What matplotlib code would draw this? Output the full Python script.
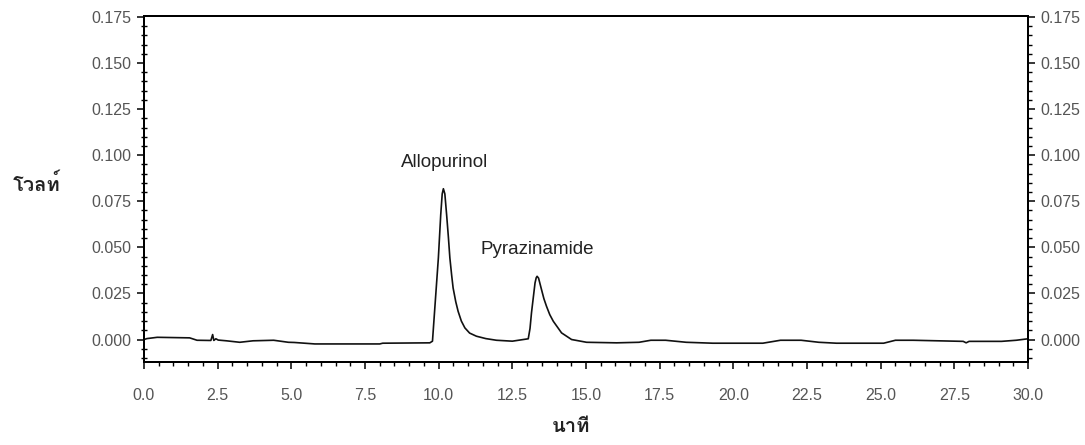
import matplotlib
matplotlib.use("Agg")
import matplotlib.pyplot as plt
from matplotlib import font_manager, ft2font
from matplotlib.ticker import MultipleLocator, FormatStrFormatter

# chromatogram (minutes, volts)
time_min = [0.0, 0.1, 0.45, 1.55, 1.8, 2.2, 2.27, 2.33, 2.37, 2.44, 2.52, 2.8,
            3.25, 3.7, 4.4, 4.9, 5.1, 5.8, 8.0, 8.1, 9.7, 9.79, 9.87, 9.94,
            9.99, 10.07, 10.12, 10.16, 10.21, 10.27, 10.33, 10.38, 10.44, 10.49,
            10.58, 10.66, 10.77, 10.89, 11.05, 11.28, 11.6, 11.96, 12.5, 13.04,
            13.1, 13.15, 13.27, 13.31, 13.34, 13.39, 13.49, 13.57, 13.66, 13.77,
            13.89, 14.17, 14.51, 15.02, 16.04, 16.8, 17.2, 17.7, 18.4, 19.3, 21.0,
            21.6, 22.3, 22.9, 23.5, 25.1, 25.5, 26.1, 27.8, 27.9, 28.0,
            29.1, 29.6, 30.0]
signal_v = [0.0, 0.0005, 0.0012, 0.0009, -0.0004, -0.0005, -0.0005, 0.0027,
            -0.0005, 0.0004, -0.0003, -0.0007, -0.0015, -0.0007, -0.0004,
            -0.0015, -0.0016, -0.0024, -0.0024, -0.0020, -0.0018, -0.0009,
            0.0172, 0.0330, 0.0443, 0.0677, 0.0790, 0.0818, 0.0790, 0.0677,
            0.0555, 0.0443, 0.0350, 0.0280, 0.0205, 0.0153, 0.0100, 0.0063,
            0.0035, 0.0018, 0.0005, -0.0004, -0.0009, 0.0004, 0.0060, 0.0145,
            0.0307, 0.0335, 0.0343, 0.0333, 0.0271, 0.0222, 0.0180, 0.0135,
            0.0099, 0.0036, 0.0, -0.0015, -0.0018, -0.0015, -0.0004, -0.0004,
            -0.0015, -0.0020, -0.0020, -0.0004, -0.0004, -0.0015, -0.0020,
            -0.0020, -0.0004, -0.0004, -0.0010, -0.0018, -0.0010, -0.0010,
            -0.0004, 0.0004]

peak_names = ["Allopurinol", "Pyrazinamide"]
peak_label_x = [10.21, 13.34]
peak_label_y = [0.0935, 0.0465]

x_ticks = [0.0, 2.5, 5.0, 7.5, 10.0, 12.5, 15.0, 17.5, 20.0, 22.5, 25.0, 27.5, 30.0]
y_ticks = [0.000, 0.025, 0.050, 0.075, 0.100, 0.125, 0.150, 0.175]


def thai_font():
    # look for any installed font that can draw Thai
    for f in font_manager.fontManager.ttflist:
        try:
            if 0x0E17 in ft2font.FT2Font(f.fname).get_charmap():
                return f.name
        except Exception:
            pass
    return "DejaVu Sans"


thai = thai_font()
plt.rcParams["font.family"] = ["Liberation Sans", "DejaVu Sans"]

fig = plt.figure(figsize=(10.85, 4.45), dpi=100)
ax = fig.add_axes([0.1327, 0.1865, 0.8148, 0.7775])

ax.plot(time_min, signal_v, color="#111111", linewidth=1.2)

for name, tx, ty in zip(peak_names, peak_label_x, peak_label_y):
    ax.text(tx, ty, name, ha="center", va="baseline", fontsize=13.5, color="#222222")

ax.set_xlim(0, 30)
ax.set_ylim(-0.0122, 0.1755)
ax.set_xticks(x_ticks)
ax.set_yticks(y_ticks)
ax.xaxis.set_minor_locator(MultipleLocator(0.5))
ax.yaxis.set_minor_locator(MultipleLocator(0.005))
ax.xaxis.set_major_formatter(FormatStrFormatter("%.1f"))
ax.yaxis.set_major_formatter(FormatStrFormatter("%.3f"))

# right side: same scale, ticks pointing outward only
ax2 = ax.twinx()
ax2.set_ylim(ax.get_ylim())
ax2.set_yticks(y_ticks)
ax2.yaxis.set_minor_locator(MultipleLocator(0.005))
ax2.yaxis.set_major_formatter(FormatStrFormatter("%.3f"))

for a in (ax, ax2):
    for s in a.spines.values():
        s.set_linewidth(1.4)
        s.set_color("black")

ax.tick_params(axis="both", which="major", direction="out", length=5, width=1.1,
               labelsize=11.5, labelcolor="#555555")
ax.tick_params(axis="y", which="major", pad=4)
ax.tick_params(axis="y", which="minor", direction="inout", length=5, width=1.0)
ax.tick_params(axis="x", which="major", pad=14)
ax.tick_params(axis="x", which="minor", direction="out", length=3, width=1.0)
ax2.tick_params(axis="y", which="major", direction="out", length=5, width=1.1,
                labelsize=11.5, labelcolor="#555555", pad=4)
ax2.tick_params(axis="y", which="minor", direction="out", length=3, width=1.0)

fig.text(37 / 1085, 1 - 184 / 445, "โวลท์", family=[thai, "DejaVu Sans"],
         fontsize=14.5, fontweight="bold", ha="center", va="center", color="#222222")
fig.text(571 / 1085, 1 - 426 / 445, "นาที", family=[thai, "DejaVu Sans"],
         fontsize=14.5, fontweight="bold", ha="center", va="center", color="#222222")

fig.savefig("out.png", dpi=100)
